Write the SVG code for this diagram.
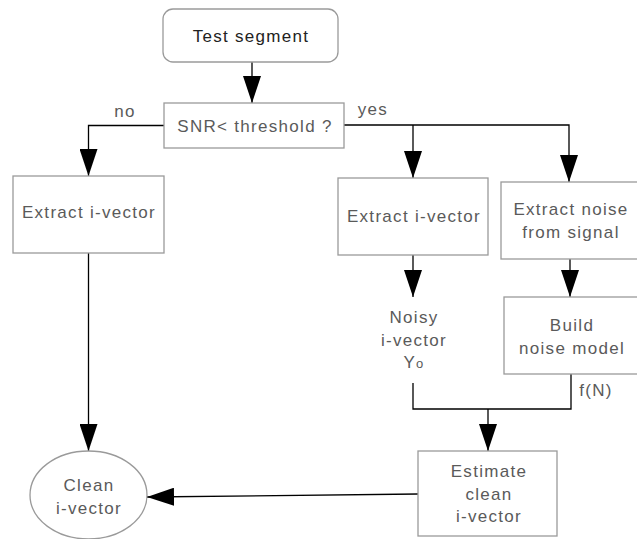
<svg xmlns="http://www.w3.org/2000/svg" width="637" height="539" viewBox="0 0 637 539">
<defs>
<style>
.box{fill:#fff;stroke:#9a9a9a;stroke-width:1.3}
.t{font-family:"Liberation Sans",Arial,sans-serif;font-size:17px;fill:#5a5a5a;text-anchor:middle;letter-spacing:1.3px}
.dark{fill:#222}
.c{fill:none;stroke:#000;stroke-width:1.3}
</style>
<marker id="ah" viewBox="0 0 27 18" refX="27" refY="9" markerWidth="27" markerHeight="18" markerUnits="userSpaceOnUse" orient="auto">
<path d="M0,0 L27,9 L0,18 z" fill="#000"/>
</marker>
</defs>
<rect width="637" height="539" fill="#fff"/>
<g id="connectors">
<line class="c" x1="252" y1="62" x2="252" y2="103" marker-end="url(#ah)"/>
<polyline class="c" points="164,125.5 88.5,125.5 88.5,176" marker-end="url(#ah)"/>
<polyline class="c" points="344,125 569,125 569,182" marker-end="url(#ah)"/>
<line class="c" x1="413" y1="125" x2="413" y2="178" marker-end="url(#ah)"/>
<line class="c" x1="88.5" y1="253" x2="88.5" y2="451" marker-end="url(#ah)"/>
<line class="c" x1="413" y1="255" x2="413" y2="297" marker-end="url(#ah)"/>
<line class="c" x1="570" y1="259" x2="570" y2="297" marker-end="url(#ah)"/>
<polyline class="c" points="413,383 413,409 571,409 571,374"/>
<line class="c" x1="488" y1="409" x2="488" y2="451" marker-end="url(#ah)"/>
<line class="c" x1="418" y1="494" x2="147" y2="497" marker-end="url(#ah)"/>
<text class="t" x="125" y="117">no</text>
<text class="t" x="373" y="115">yes</text>
<text class="t" x="596" y="396">f(N)</text>
</g>
<g id="test-segment">
<rect class="box" x="163" y="9" width="175" height="53" rx="10"/>
<text class="t dark" x="251" y="42">Test segment</text>
</g>
<g id="snr">
<rect class="box" x="164" y="103" width="180" height="45"/>
<text class="t" x="255" y="132">SNR&lt; threshold ?</text>
</g>
<g id="extract-left">
<rect class="box" x="13" y="176" width="151" height="77"/>
<text class="t" x="89" y="218">Extract i-vector</text>
</g>
<g id="extract-mid">
<rect class="box" x="338" y="178" width="150" height="77"/>
<text class="t" x="414" y="222">Extract i-vector</text>
</g>
<g id="extract-noise">
<rect class="box" x="501" y="182" width="140" height="77"/>
<text class="t" x="571" y="215">Extract noise</text>
<text class="t" x="571" y="238">from signal</text>
</g>
<g id="noisy">
<text class="t" x="414" y="323">Noisy</text>
<text class="t" x="414" y="346">i-vector</text>
<text class="t" x="414" y="368">Y<tspan font-size="13">o</tspan></text>
</g>
<g id="build-noise">
<rect class="box" x="504" y="297" width="140" height="77"/>
<text class="t" x="572" y="331">Build</text>
<text class="t" x="572" y="354">noise model</text>
</g>
<g id="estimate">
<rect class="box" x="418" y="451" width="139" height="85"/>
<text class="t" x="489" y="477">Estimate</text>
<text class="t" x="489" y="500">clean</text>
<text class="t" x="489" y="522">i-vector</text>
</g>
<g id="clean">
<ellipse class="box" cx="88.5" cy="495" rx="58.5" ry="44"/>
<text class="t" x="89" y="491">Clean</text>
<text class="t" x="89" y="514">i-vector</text>
</g>
</svg>
